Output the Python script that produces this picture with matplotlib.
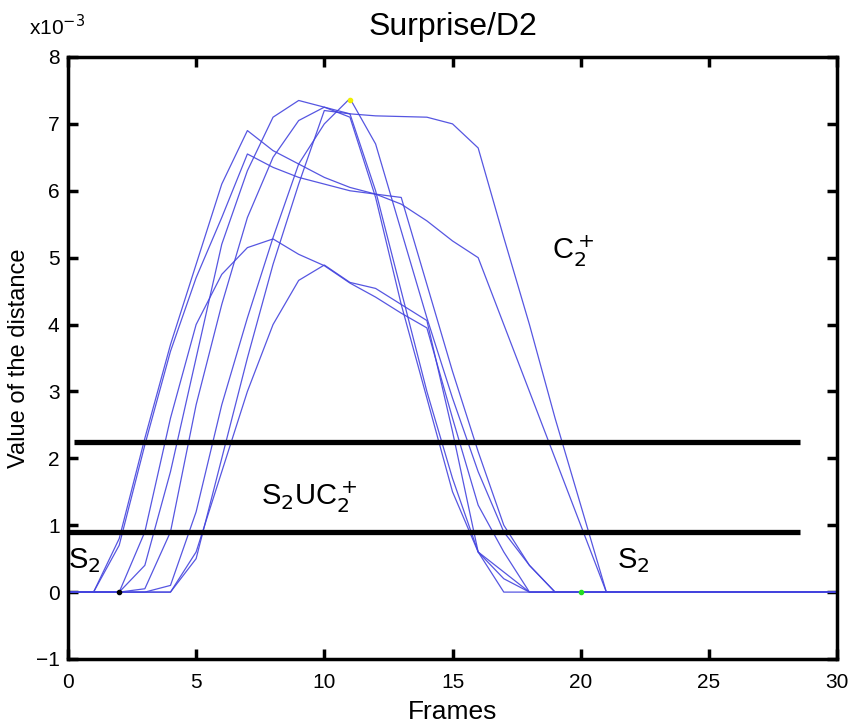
import matplotlib.pyplot as plt
import numpy as np

plt.rcParams['font.family'] = ['Liberation Sans', 'DejaVu Sans']

frames = np.arange(0, 31)

# distance values per sequence, in units of 1e-3, given as {frame: value}; all other frames are 0
curve_a = {2: 0.8, 3: 2.3, 4: 3.7, 5: 4.9, 6: 6.1, 7: 6.9, 8: 6.6, 9: 6.4, 10: 6.2, 11: 6.05,
           12: 5.95, 13: 5.8, 14: 5.55, 15: 5.25, 16: 5.0, 17: 4.0, 18: 3.0, 19: 2.0, 20: 1.0}
curve_b = {2: 0.7, 3: 2.2, 4: 3.6, 5: 4.7, 6: 5.6, 7: 6.55, 8: 6.35, 9: 6.2, 10: 6.1, 11: 6.0,
           12: 5.95, 13: 5.9, 14: 4.6, 15: 3.3, 16: 2.1, 17: 1.0, 18: 0.4}
curve_c = {3: 0.9, 4: 2.6, 5: 4.0, 6: 4.75, 7: 5.15, 8: 5.28, 9: 5.05, 10: 4.88, 11: 4.62,
           12: 4.41, 13: 4.17, 14: 3.95, 15: 2.6, 16: 1.3, 17: 0.6}
curve_d = {5: 0.6, 6: 1.8, 7: 3.0, 8: 4.0, 9: 4.66, 10: 4.89, 11: 4.63, 12: 4.54, 13: 4.3,
           14: 4.06, 15: 2.4, 16: 0.6}
curve_e = {3: 0.4, 4: 1.8, 5: 3.5, 6: 5.2, 7: 6.3, 8: 7.1, 9: 7.35, 10: 7.25, 11: 7.1, 12: 5.9,
           13: 4.3, 14: 2.9, 15: 1.5, 16: 0.6, 17: 0.2}
curve_f = {3: 0.05, 4: 0.9, 5: 2.8, 6: 4.3, 7: 5.6, 8: 6.5, 9: 7.05, 10: 7.25, 11: 7.15, 12: 6.0,
           13: 4.5, 14: 3.0, 15: 1.7, 16: 0.6, 17: 0.3}
curve_g = {4: 0.1, 5: 1.2, 6: 2.8, 7: 4.1, 8: 5.3, 9: 6.4, 10: 7.0, 11: 7.38, 12: 6.7, 13: 5.4,
           14: 4.1, 15: 2.9, 16: 1.8, 17: 0.9, 18: 0.4}
curve_h = {5: 0.5, 6: 2.0, 7: 3.5, 8: 4.9, 9: 6.1, 10: 7.2, 11: 7.15, 12: 7.12, 13: 7.11,
           14: 7.1, 15: 7.0, 16: 6.64, 17: 5.3, 18: 4.0, 19: 2.6, 20: 1.3}
curves = [curve_a, curve_b, curve_c, curve_d, curve_e, curve_f, curve_g, curve_h]

# thresholds (1e-3)
upper_thr = 2.25
lower_thr = 0.9

# highlighted points
black_pt = (2, 0.0)
yellow_pt = (11, 7.35)
green_pt = (20, 0.0)

fig = plt.figure(figsize=(8.49, 7.26), dpi=100)
ax = fig.add_axes([0.080, 0.0923, 0.906, 0.8292])

for c in curves:
    vals = np.zeros(len(frames))
    for k, v in c.items():
        vals[k] = v
    ax.plot(frames, vals, color='#4444de', lw=0.9, alpha=0.9)

ax.plot([0.25, 28.55], [upper_thr, upper_thr], color='black', lw=3.8, solid_capstyle='butt')
ax.plot([0.0, 28.55], [lower_thr, lower_thr], color='black', lw=3.8, solid_capstyle='butt')

ax.plot(*black_pt, 'o', color='black', ms=3)
ax.plot(*yellow_pt, 'o', color='#f0f000', ms=3)
ax.plot(*green_pt, 'o', color='#22dd22', ms=3)

ax.text(0.0, 0.25, 'S$_2$', fontsize=21, ha='left', va='bottom')
ax.text(9.4, 1.42, 'S$_2$UC$_2^+$', fontsize=21, ha='center', va='center')
ax.text(19.7, 5.1, 'C$_2^+$', fontsize=21, ha='center', va='center')
ax.text(21.4, 0.25, 'S$_2$', fontsize=21, ha='left', va='bottom')

ax.set_xlim(0, 30)
ax.set_ylim(-1, 8)
ax.set_xticks(range(0, 31, 5))
ax.set_yticks(range(-1, 9))
ax.set_yticklabels(['\u22121'] + [str(i) for i in range(0, 9)])
ax.tick_params(direction='in', length=7, width=2.5, labelsize=15, top=True, right=True)
ax.tick_params(axis='x', pad=10)
ax.tick_params(axis='y', pad=6)
for s in ax.spines.values():
    s.set_linewidth(2.5)

ax.text(-0.05, 1.03, 'x10$^{-3}$', transform=ax.transAxes, fontsize=15, ha='left', va='bottom')
ax.set_title('Surprise/D2', fontsize=23, pad=16)
ax.set_xlabel('Frames', fontsize=19, labelpad=6)
ax.set_ylabel('Value of the distance', fontsize=17, labelpad=4)

fig.savefig('out.png', dpi=100)
